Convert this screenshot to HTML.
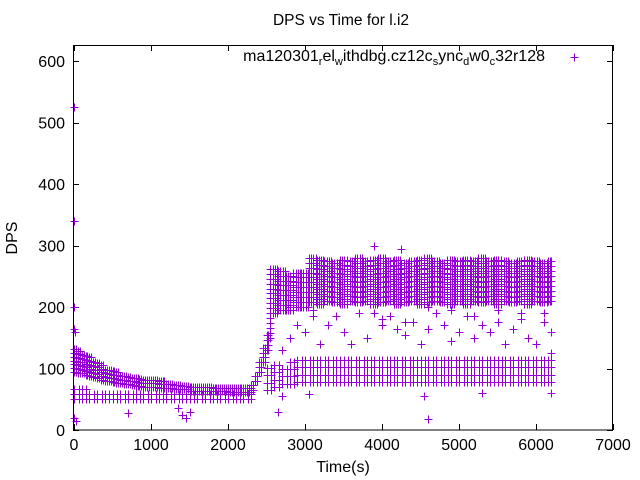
<!DOCTYPE html>
<html><head><meta charset="utf-8"><style>
body{margin:0;background:#fff}
svg{display:block;font-family:"Liberation Sans",sans-serif}
</style></head><body>
<svg id="chart" width="640" height="480" viewBox="0 0 640 480">
<text x="341" y="25" text-anchor="middle" font-size="15.5">DPS vs Time for l.i2</text>
<g id="grid"></g>
<g id="marks" stroke="#9400d3" stroke-width="1"></g>
<rect x="73.5" y="45.5" width="539" height="384.5" fill="none" stroke="#000"/>
<text x="545" y="61" text-anchor="end" font-size="16">ma120301<tspan font-size="11" dy="4">r</tspan><tspan dy="-4">el</tspan><tspan font-size="11" dy="4">w</tspan><tspan dy="-4">ithdbg.cz12c</tspan><tspan font-size="11" dy="4">s</tspan><tspan dy="-4">ync</tspan><tspan font-size="11" dy="4">d</tspan><tspan dy="-4">w0</tspan><tspan font-size="11" dy="4">c</tspan><tspan dy="-4">32r128</tspan></text>
<path d="M570.5 57.5h8M574.5 53.5v8" stroke="#9400d3"/>
<text x="17" y="238" transform="rotate(-90 17 238)" text-anchor="middle" font-size="16">DPS</text>
<text x="343" y="472" text-anchor="middle" font-size="16">Time(s)</text>
</svg>
<script>
const xTicks=[0,1000,2000,3000,4000,5000,6000,7000];
const yTicks=[0,100,200,300,400,500,600];
// binned bands: time, low, high
const bandT=[0,50,100,150,200,250,300,350,400,450,500,550,600,650,700,750,800,850,900,950,1000,1100,1200,1300,1400,1500,1600,1700,1800,1900,2000,2100,2200,2300];
const bandHi=[135,130,125,122,118,114,110,106,102,100,97,95,92,90,89,88,86,85,84,83,82,80,78,77,76,75,74,74,73,73,73,72,72,73];
const bandLo=[95,93,92,90,88,86,85,82,80,79,78,77,76,75,74,73,72,71,70,70,70,68,68,67,66,64,64,64,63,63,62,62,62,62];
const strandT=[0,100,200,300,400,500,600,700,800,900,1000,1100,1200,1300,1400,1500,1600,1700,1800,1900,2000,2100,2200,2300];
const strandLo=[50,50,50,50,50,50,50,50,50,50,50,50,50,50,50,50,50,50,50,50,50,50,50,50];
const strandHi=[66,66,65,65,64,63,62,62,62,61,61,61,60,60,60,60,60,60,60,60,60,60,60,60];
const rampT=[2300,2350,2400,2450,2500,2550];
const rampLo=[65,80,95,110,130,150];
const rampHi=[80,95,115,135,160,185];
const upT=[2550,2650,2750,2850,2950,3050,3150,3250,3350,3450,3550,3650,3750,3850,3950,4050,4150,4250,4350,4450,4550,4650,4750,4850,4950,5050,5150,5250,5350,5450,5550,5650,5750,5850,5950,6050,6150,6200];
const upLo=[190,195,195,200,200,208,205,210,208,205,210,208,210,205,208,210,205,208,210,205,208,210,208,205,210,205,210,208,210,205,210,208,210,205,210,208,210,210];
const upHi=[262,260,258,256,260,280,278,280,278,280,278,280,278,280,280,278,280,278,280,278,282,280,278,280,278,280,278,282,280,282,280,278,280,282,280,278,280,278];
const lowT=[2500,2600,2700,2800,2900,3000,3100,3200,3300,3400,3500,3600,3700,3800,3900,4000,4100,4200,4300,4400,4500,4600,4700,4800,4900,5000,5100,5200,5300,5400,5500,5600,5700,5800,5900,6000,6100,6200];
const lowLo=[65,70,75,75,78,78,78,78,78,78,78,78,78,78,78,78,78,78,78,78,78,78,78,78,78,78,78,78,78,78,78,78,78,78,78,78,78,78];
const lowHi=[110,115,110,115,118,118,120,118,120,118,120,118,120,118,120,118,120,120,118,120,118,120,118,120,125,120,125,120,125,120,125,122,125,125,122,125,125,130];
const outX=[0,0,0,0,0,30,10,700,1350,1400,1450,1500,2650,2700,2800,2900,3000,3100,3200,3300,3500,3600,3800,3900,4000,4100,4200,4300,4400,4500,4600,4700,4800,4900,5000,5100,5200,5300,5400,5500,5600,5700,5800,5900,6000,6100,6200,2800,3100,3400,3700,4000,4300,4600,4900,5200,5500,5800,6100,4600,2700,3050,4550,5300,6200,3900,4250];
const outY=[525,340,200,165,20,15,160,28,35,25,20,30,30,130,150,170,160,185,140,170,160,140,150,190,170,185,165,155,175,140,165,190,170,145,160,185,150,170,160,175,140,165,190,150,140,175,160,200,195,185,190,180,175,200,195,185,195,180,190,18,55,58,55,60,60,300,295];
const X=v=>74+v*(539/7000), Y=v=>430-v*0.615;
const ns="http://www.w3.org/2000/svg";
const g=document.getElementById('grid'), m=document.getElementById('marks');
xTicks.forEach(t=>{
 const l=document.createElementNS(ns,'path');
 l.setAttribute('d',`M${Math.round(X(t))+.5} 430v-6M${Math.round(X(t))+.5} 45v6`);l.setAttribute('stroke','#000');
 
 
 g.appendChild(l);
 const s=document.createElementNS(ns,'text');
 s.setAttribute('x',X(t));s.setAttribute('y',450);s.setAttribute('text-anchor','middle');s.setAttribute('font-size','16');s.textContent=t;
 
 
 g.appendChild(s);
});
yTicks.forEach(t=>{
 const l=document.createElementNS(ns,'path');
 l.setAttribute('d',`M73 ${Math.round(Y(t))+.5}h6M613 ${Math.round(Y(t))+.5}h-6`);l.setAttribute('stroke','#000');
 
 
 g.appendChild(l);
 const s=document.createElementNS(ns,'text');
 s.setAttribute('x',65);s.setAttribute('y',Y(t)+6);s.setAttribute('text-anchor','end');s.setAttribute('font-size','16');s.textContent=t;
 
 
 g.appendChild(s);
});
let d='';
function plus(x,y){const px=Math.round(X(x))+.5,py=Math.round(Y(y))+.5;if(px<73||px>613)return;d+=`M${px-4} ${py}h8M${px} ${py-4}v8`;}
function band(T,Lo,Hi,dx,dy){
 for(let i=0;i<T.length;i++){
  const t0=T[i],t1=i+1<T.length?T[i+1]:T[i]+1;
  for(let t=t0;t<t1;t+=dx) for(let v=Lo[i];v<=Hi[i];v+=dy) plus(t,v);
 }
}
band(bandT,bandLo,bandHi,25,6);
band(strandT,strandLo,strandHi,60,8);
band(rampT,rampLo,rampHi,25,8);
band(upT,upLo,upHi,30,8);
band(lowT,lowLo,lowHi,60,12);
outX.forEach((x,i)=>plus(x,outY[i]));
const p=document.createElementNS(ns,'path');
p.setAttribute('d',d);p.setAttribute('fill','none');


m.appendChild(p);
</script>
</body></html>
